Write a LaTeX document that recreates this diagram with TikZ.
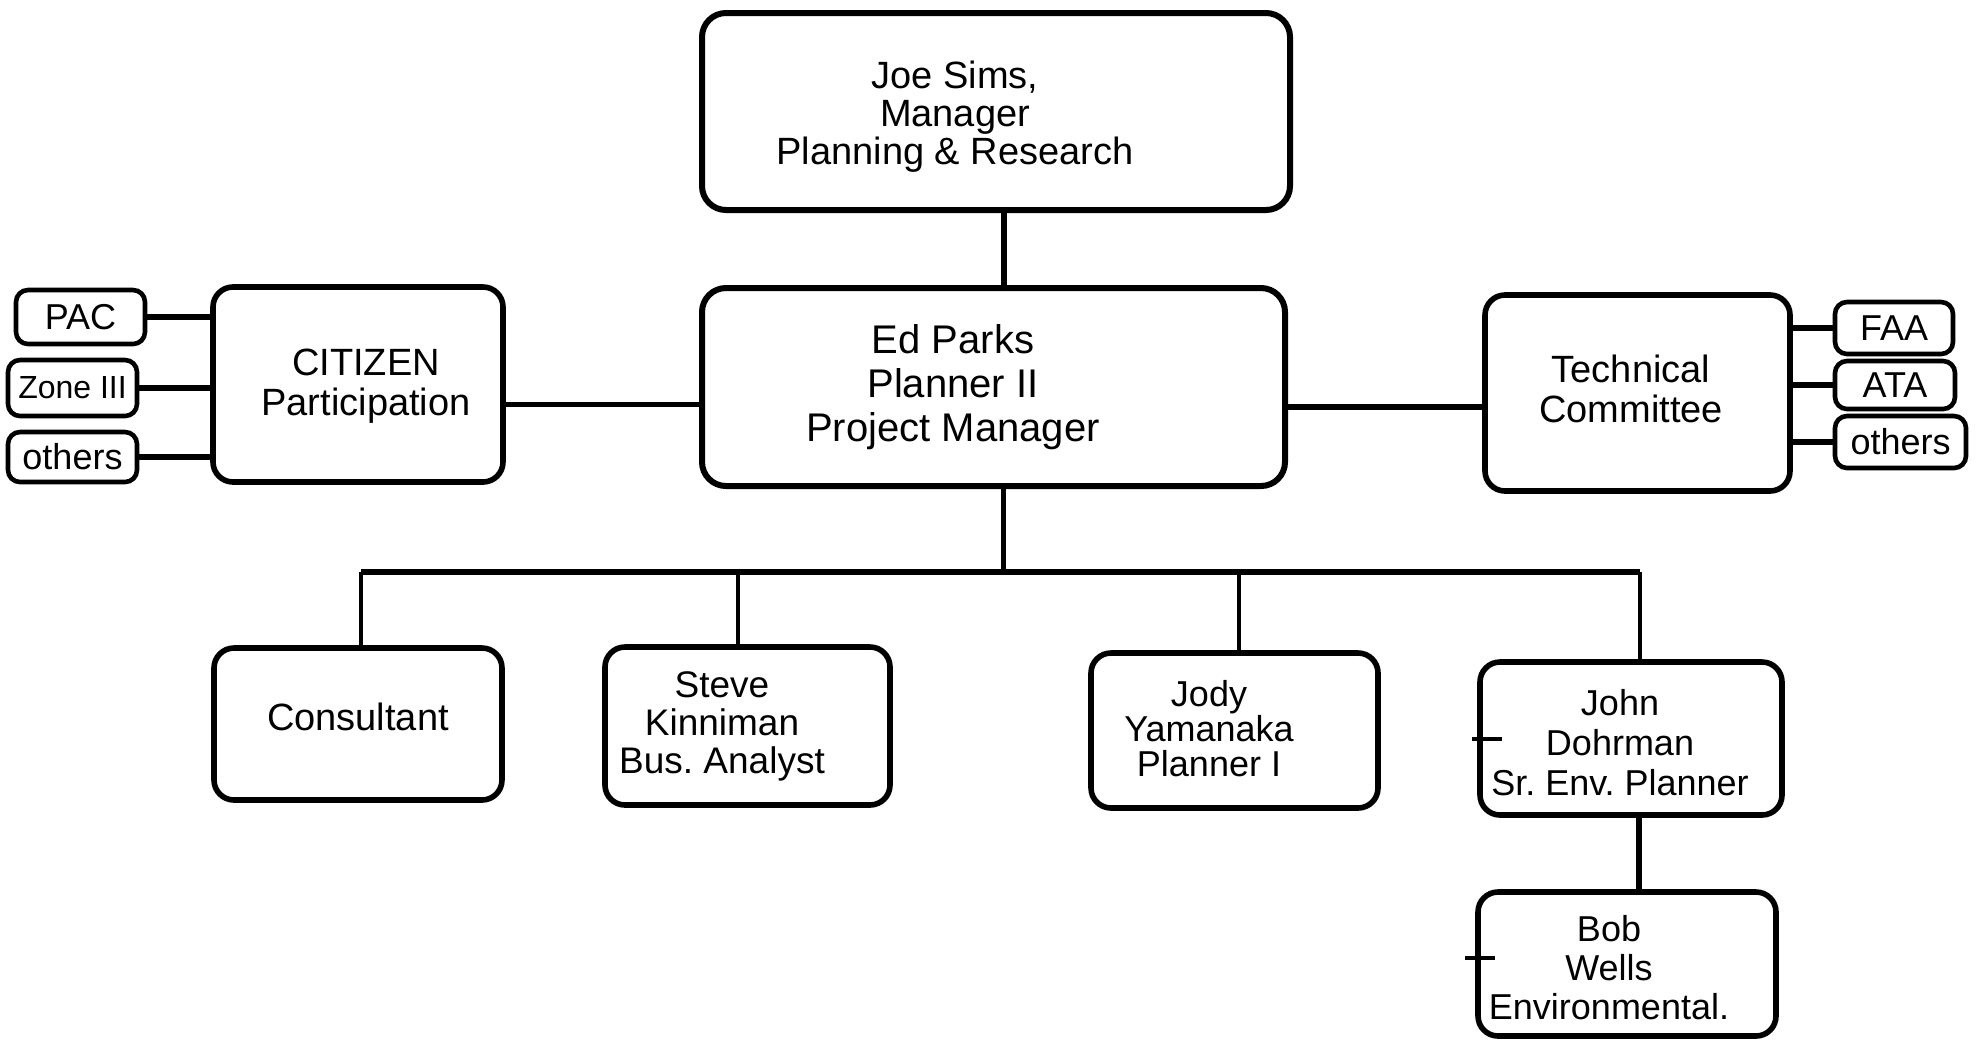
\documentclass[tikz,border=0pt]{standalone}
\usepackage{fontspec}
\setmainfont{Liberation Sans}
\frenchspacing
\begin{document}
\begin{tikzpicture}[x=0.5pt,y=-0.5pt,
  box/.style={draw,line width=3pt,rounded corners=12pt},
  mbox/.style={draw,line width=2.8pt,rounded corners=10pt},
  sbox/.style={draw,line width=2.3pt,rounded corners=6pt,inner sep=0pt,font=\fontsize{18}{20}\selectfont},
  txt/.style={align=center,inner sep=0pt},
  conn/.style={line width=2.6pt},
  thinconn/.style={line width=2pt}]
\useasboundingbox[fill=white] (0,0) rectangle (1979,1040);

% main boxes
\node[box,minimum width=294pt,minimum height=98.5pt] (joe) at (996,111.5) {};
\node[txt,font=\fontsize{19}{19}\selectfont] (joeT) at (955,117) {Joe Sims,\\Manager\\Planning \& Research};

\node[box,minimum width=291.5pt,minimum height=99pt] (ed) at (993.5,387) {};
\node[txt,font=\fontsize{20}{22}\selectfont] (edT) at (953,387) {Ed Parks\\Planner II\\Project Manager};

\node[mbox,minimum width=145pt,minimum height=97.5pt] (cit) at (358,384.5) {};
\node[txt,font=\fontsize{19}{20}\selectfont] (citT) at (366,386) {CITIZEN\\Participation};

\node[mbox,minimum width=152.5pt,minimum height=98pt] (tech) at (1637.5,393) {};
\node[txt,font=\fontsize{19}{20}\selectfont] (techT) at (1631,389) {Technical\\Committee};

% small boxes left
\node[sbox,minimum width=64.5pt,minimum height=27pt] (pac) at (80.5,317) {PAC};
\node[sbox,minimum width=64.5pt,minimum height=28pt,font=\fontsize{16}{18}\selectfont] (zone) at (72.5,388) {Zone III};
\node[sbox,minimum width=64.5pt,minimum height=25pt] (othL) at (72.5,457) {others};

% small boxes right
\node[sbox,minimum width=59pt,minimum height=26pt] (faa) at (1894,328) {FAA};
\node[sbox,minimum width=60pt,minimum height=24pt] (ata) at (1895,385) {ATA};
\node[sbox,minimum width=65.5pt,minimum height=26pt] (othR) at (1900.5,442) {others};

% bottom row
\node[mbox,minimum width=144pt,minimum height=76pt] (cons) at (358,724) {};
\node[txt,font=\fontsize{19}{20}\selectfont] (consT) at (358,717) {Consultant};

\node[mbox,minimum width=142.5pt,minimum height=79pt] (steve) at (747.5,726) {};
\node[txt,font=\fontsize{18.5}{19}\selectfont] (steveT) at (722,726) {Steve\\Kinniman\\Bus. Analyst};

\node[mbox,minimum width=143.5pt,minimum height=77.5pt] (jody) at (1234.5,730.5) {};
\node[txt,font=\fontsize{18}{17.5}\selectfont] (jodyT) at (1209,729) {Jody\\Yamanaka\\Planner I};

\node[mbox,minimum width=151pt,minimum height=76.5pt] (john) at (1631,738.5) {};
\node[txt,font=\fontsize{18}{20}\selectfont] (johnT) at (1620,743) {John\\Dohrman\\Sr. Env. Planner};

\node[mbox,minimum width=149pt,minimum height=72pt] (bob) at (1627,964) {};
\node[txt,font=\fontsize{18}{19.5}\selectfont] (bobT) at (1609,968) {Bob\\Wells\\Environmental.};

% connectors
\draw[conn] ([xshift=4pt]joe.south) -- ([xshift=4pt]joe.south |- ed.north);
\draw[conn] ([yshift=-10pt]cit.east) -- ([yshift=-10pt]cit.east -| ed.west);
\draw[conn] ([yshift=-10pt]ed.east) -- ([yshift=-10pt]ed.east -| tech.west);

\draw[conn] (pac.east) -- (pac.east -| cit.west);
\draw[conn] (zone.east) -- (zone.east -| cit.west);
\draw[conn] (othL.east) -- (othL.east -| cit.west);

\draw[conn] (tech.east |- faa.west) -- (faa.west);
\draw[conn] (tech.east |- ata.west) -- (ata.west);
\draw[conn] (tech.east |- othR.west) -- (othR.west);

% bus
\coordinate (busL) at (361,572);
\coordinate (busR) at (1640,572);
\draw[conn] (busL) -- (busR);
\draw[conn] ([xshift=5pt]ed.south) -- ([xshift=5pt]ed.south |- busL);
\draw[thinconn] (busL) -- (busL |- cons.north);
\draw[thinconn] ([xshift=-5pt]steve.north |- busL) -- ([xshift=-5pt]steve.north);
\draw[thinconn] ([xshift=2pt]jody.north |- busL) -- ([xshift=2pt]jody.north);
\draw[thinconn] (busR) -- (busR |- john.north);
\draw[conn] ([xshift=4pt]john.south) -- ([xshift=4pt]john.south |- bob.north);

% small ticks at left of John and Bob
\draw[thinconn] ([xshift=-2.5pt]john.west) -- ([xshift=12.5pt]john.west);
\draw[thinconn] ([xshift=-5pt,yshift=3pt]bob.west) -- ([xshift=10pt,yshift=3pt]bob.west);
\end{tikzpicture}
\end{document}
